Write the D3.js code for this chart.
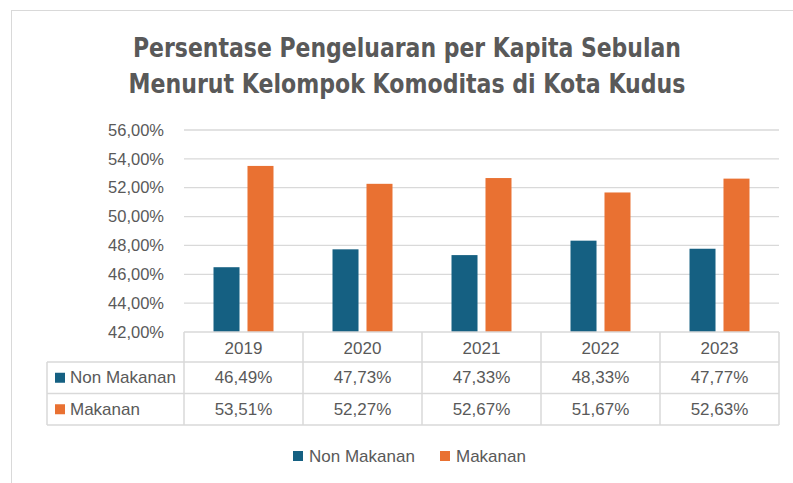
<!DOCTYPE html>
<html>
<head>
<meta charset="utf-8">
<script src="https://cdn.jsdelivr.net/npm/d3@7"></script>
<style>
  body { margin: 0; background: #fff; }
  svg { display: block; }
</style>
</head>
<body>
<div id="chart"></div>
<script>
const years = ["2019", "2020", "2021", "2022", "2023"];
const seriesNames = ["Non Makanan", "Makanan"];
const nonMakanan = [46.49, 47.73, 47.33, 48.33, 47.77];
const makanan = [53.51, 52.27, 52.67, 51.67, 52.63];
const yTicks = [42, 44, 46, 48, 50, 52, 54, 56];
const titleLines = ["Persentase Pengeluaran per Kapita Sebulan", "Menurut Kelompok Komoditas di Kota Kudus"];

const colors = ["#156082", "#E97132"];
const textColor = "#595959";
const gridColor = "#d9d9d9";
const font = "'Liberation Sans', Arial, sans-serif";

let w = 793, h = 483;
let plot = {left: 184, right: 779, top: 130, bottom: 332};
let rowH = [30, 31.5, 31.5];

const svg = d3.select("#chart").append("svg")
    .attr("width", w)
    .attr("height", h);

// chart frame (only top and left visible in the picture)
svg.append("rect")
    .attr("x", 11.5).attr("y", 10.5)
    .attr("width", 800).attr("height", 490)
    .attr("fill", "none")
    .attr("stroke", gridColor);

// title, squeezed to the width of the narrow font in the original
const titleWidth = [548, 557];
svg.append("g").selectAll("text")
    .data(titleLines)
    .enter()
    .append("text")
    .attr("x", 407)
    .attr("y", (d, i) => 57 + i * 36)
    .attr("text-anchor", "middle")
    .attr("textLength", (d, i) => titleWidth[i])
    .attr("lengthAdjust", "spacingAndGlyphs")
    .style("font-family", "'DejaVu Sans Condensed', 'Liberation Sans', sans-serif")
    .style("font-weight", "bold")
    .style("font-size", "26px")
    .style("fill", textColor)
    .text(d => d);

let x = d3.scaleBand()
    .domain(years)
    .range([plot.left, plot.right]);

let x1 = d3.scaleBand()
    .domain(seriesNames)
    .range([0, x.bandwidth()])
    .paddingInner(0.235)
    .paddingOuter(0.868);

let y = d3.scaleLinear()
    .domain([42, 56])
    .range([plot.bottom, plot.top]);

// gridlines
svg.append("g").selectAll("line")
    .data(yTicks.slice(1))
    .enter()
    .append("line")
    .attr("x1", plot.left).attr("x2", plot.right)
    .attr("y1", d => y(d)).attr("y2", d => y(d))
    .attr("stroke", gridColor)
    .attr("stroke-width", 1.3);

// y axis labels
const yAxis = svg.append("g")
    .attr("transform", `translate(${plot.left - 17},0)`)
    .call(d3.axisLeft(y).tickValues(yTicks).tickSize(0)
        .tickFormat(d => d3.format(".2f")(d).replace(".", ",") + "%"));
yAxis.select(".domain").remove();
yAxis.selectAll("text")
    .style("font-family", font)
    .style("font-size", "16.5px")
    .style("fill", textColor);

// bars
const data = years.map((yr, i) => ({year: yr, values: [nonMakanan[i], makanan[i]]}));
svg.append("g").selectAll("g")
    .data(data)
    .enter()
    .append("g")
    .attr("transform", d => `translate(${x(d.year)},0)`)
    .selectAll("rect")
    .data(d => d.values.map((v, j) => ({name: seriesNames[j], value: v, j: j})))
    .enter()
    .append("rect")
    .attr("x", d => x1(d.name))
    .attr("width", x1.bandwidth())
    .attr("y", d => y(d.value))
    .attr("height", d => y(42) - y(d.value))
    .attr("fill", d => colors[d.j]);

// data table
const table = svg.append("g").attr("class", "data-table");
const tableLeft = 47;
const rowTop = [plot.bottom, plot.bottom + rowH[0], plot.bottom + rowH[0] + rowH[1]];
const tableBottom = rowTop[2] + rowH[2];

// horizontal lines
table.append("line")
    .attr("x1", plot.left).attr("x2", plot.right)
    .attr("y1", rowTop[0]).attr("y2", rowTop[0]);
[rowTop[1], rowTop[2], tableBottom].forEach(yy => {
    table.append("line")
        .attr("x1", tableLeft).attr("x2", plot.right)
        .attr("y1", yy).attr("y2", yy);
});
// vertical lines
table.append("line")
    .attr("x1", tableLeft).attr("x2", tableLeft)
    .attr("y1", rowTop[1]).attr("y2", tableBottom);
years.concat(["end"]).forEach((yr, i) => {
    let xx = yr == "end" ? plot.right : x(yr);
    table.append("line")
        .attr("x1", xx).attr("x2", xx)
        .attr("y1", rowTop[0]).attr("y2", tableBottom);
});
table.selectAll("line")
    .attr("stroke", gridColor)
    .attr("stroke-width", 1.5);

const cellText = (sel) => sel
    .attr("text-anchor", "middle")
    .attr("dominant-baseline", "central")
    .style("font-family", font)
    .style("font-size", "17px")
    .style("fill", textColor);

table.selectAll("text.year")
    .data(years)
    .enter()
    .append("text")
    .attr("class", "year")
    .attr("x", d => x(d) + x.bandwidth() / 2)
    .attr("y", rowTop[0] + rowH[0] / 2 + 1)
    .call(cellText)
    .text(d => d);

const pct = v => d3.format(".2f")(v).replace(".", ",") + "%";
[nonMakanan, makanan].forEach((vals, r) => {
    table.selectAll("text.row" + r)
        .data(vals)
        .enter()
        .append("text")
        .attr("class", "row" + r)
        .attr("x", (d, i) => x(years[i]) + x.bandwidth() / 2)
        .attr("y", rowTop[r + 1] + rowH[r + 1] / 2)
        .call(cellText)
        .text(d => pct(d));
    // legend key in table
    table.append("rect")
        .attr("x", 55)
        .attr("y", rowTop[r + 1] + rowH[r + 1] / 2 - 5)
        .attr("width", 10).attr("height", 10)
        .attr("fill", colors[r]);
    table.append("text")
        .attr("x", 70)
        .attr("y", rowTop[r + 1] + rowH[r + 1] / 2)
        .attr("dominant-baseline", "central")
        .style("font-family", font)
        .style("font-size", "17px")
        .style("fill", textColor)
        .text(seriesNames[r]);
});

// bottom legend
const legend = svg.append("g").attr("transform", "translate(293,456)");
const legendX = [0, 147];
seriesNames.forEach((name, i) => {
    legend.append("rect")
        .attr("x", legendX[i]).attr("y", -5)
        .attr("width", 10).attr("height", 10)
        .attr("fill", colors[i]);
    legend.append("text")
        .attr("x", legendX[i] + 16)
        .attr("y", 0)
        .attr("dominant-baseline", "central")
        .style("font-family", font)
        .style("font-size", "17px")
        .style("fill", textColor)
        .text(name);
});
</script>
</body>
</html>
